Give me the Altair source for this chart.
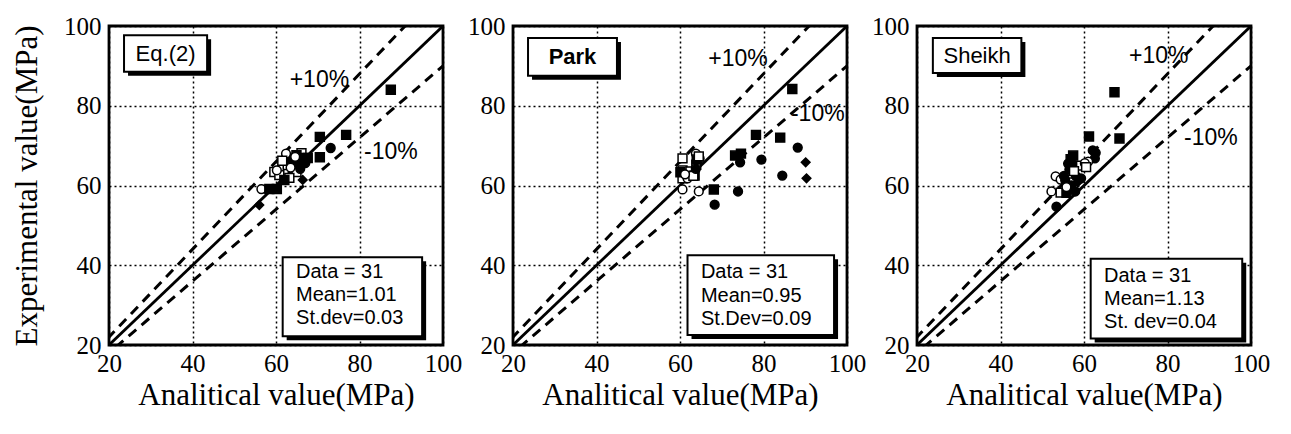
import altair as alt
import pandas as pd

# ---------------- data ----------------
panel_names = ["Eq.(2)", "Park", "Sheikh"]
stats_lines = [
    ["Data = 31", "Mean=1.01", "St.dev=0.03"],
    ["Data = 31", "Mean=0.95", "St.Dev=0.09"],
    ["Data = 31", "Mean=1.13", "St. dev=0.04"],
]

# kinds: FS filled square, OS open square, FC filled circle, OC open circle, FD filled diamond
eq2_kind = ["FS","FS","FS","FC","FS","OS","OS","OS","FS","FS","FS","FS","FC","OS","OS","OS",
            "OS","OC","FD","OC","FS","FS","FD","FC","OC","FS","OC","FC","OS","FC","OC"]
eq2_x = [87.5,70.5,76.8,73.1,70.5,62.5,62.8,66.1,64.9,66.4,63.7,67.6,65.5,59.6,60.8,64.9,
         63.2,60.2,66.4,56.5,58.4,60.2,56.0,64.3,63.5,62.0,62.4,67.0,61.5,65.8,64.6]
eq2_y = [84.0,72.2,72.7,69.4,67.1,66.9,65.1,68.1,67.6,66.9,66.6,66.9,65.8,63.4,62.6,63.4,
         61.9,63.8,61.4,59.1,59.1,59.1,55.1,65.5,64.5,61.4,68.0,65.6,66.2,64.2,67.2]

park_kind = ["FS","FS","FS","FC","FS","FS","FC","FC","FD","FD","FC","FS","FC","FC","OS","OS",
             "OS","OS","OS","OC","OC","OC","OC","OC","FS","FS","FS","OS","OC","FC","OS"]
park_x = [86.9,78.2,84.0,88.2,73.2,74.6,74.4,79.5,90.1,90.3,84.5,68.1,73.9,68.3,60.6,60.6,
          60.6,62.5,63.9,63.8,64.7,60.6,64.5,61.8,60.1,63.5,64.0,63.2,61.2,63.8,64.5]
park_y = [84.2,72.7,72.0,69.5,67.5,68.0,65.8,66.5,65.8,61.8,62.5,59.0,58.5,55.2,66.8,63.8,
          61.8,63.5,65.2,68.0,66.8,59.0,58.5,61.8,63.3,62.5,66.5,62.4,62.8,64.2,67.3]

sheikh_kind = ["FS","FS","FS","FC","FC","OC","FS","FC","FC","OS","OS","FC","FC","OC","OC","FC",
               "OC","OS","FS","FC","FC","FC","FS","OC","FC","OS","FC","OC","FD","FC","OS"]
sheikh_x = [67.3,61.2,68.5,62.1,62.6,61.0,57.4,56.2,58.1,59.3,56.7,58.1,59.3,53.2,54.4,55.5,
            52.2,54.4,55.8,57.9,53.4,57.0,56.8,60.2,56.5,57.6,55.2,55.8,58.5,62.8,60.5]
sheikh_y = [83.4,72.3,71.8,68.8,66.8,66.0,67.5,65.5,65.0,65.0,63.0,62.3,61.8,62.3,61.5,61.3,
            58.5,58.2,58.2,58.5,54.7,60.0,66.6,65.6,64.0,63.6,62.4,59.6,60.8,68.2,64.6]

kinds_x = [eq2_x, park_x, sheikh_x]
kinds_y = [eq2_y, park_y, sheikh_y]
kinds_k = [eq2_kind, park_kind, sheikh_kind]

# reference lines y = r * x
ref_ratio = [1.0, 1.1, 0.9]
ref_label = ["0%", "+10%", "-10%"]
ref_ends = [0, 120]

# label positions (data units)
plus_pos = [(70.4, 86.5), (73.9, 91.7), (77.9, 92.5)]
minus_pos = [(87.5, 68.4), (93.0, 78.0), (90.4, 71.8)]
name_box = [(23.6, 43.5, 97.7, 88.5), (23.6, 44.9, 97.0, 87.5), (23.8, 45.0, 97.0, 88.2)]
stats_box = [(61.6, 95.0, 42.0, 22.2), (61.8, 96.9, 42.5, 22.5), (61.6, 97.9, 41.6, 21.6)]
stats_y = [[38.3, 32.5, 26.7], [38.2, 32.4, 26.6], [37.4, 31.6, 25.8]]

SERIF = "Liberation Serif"
SANS = "Liberation Sans"
domain = [20, 100]
ticks = [20, 40, 60, 80, 100]
kind_dom = ["FS", "OS", "FC", "OC", "FD"]
DIAMOND = "M-1,0L0,-1L1,0L0,1Z"


def panel(i):
    xs = alt.Scale(domain=domain, nice=False, zero=False)
    ys = alt.Scale(domain=domain, nice=False, zero=False)
    xt = "Analitical value(MPa)"
    yt = "Experimental value(MPa)" if i == 0 else None

    def X(f):
        return alt.X(f, scale=xs, axis=alt.Axis(values=ticks, title=xt))

    def Y(f):
        return alt.Y(f, scale=ys, axis=alt.Axis(values=ticks, title=yt))

    pts = pd.DataFrame({"x": kinds_x[i], "y": kinds_y[i], "kind": kinds_k[i]})
    base_pts = alt.Chart(pts).mark_point(filled=True, stroke="black", strokeWidth=1.5, opacity=1).encode(
        x=X("x:Q"), y=Y("y:Q"),
        shape=alt.Shape("kind:N", scale=alt.Scale(domain=kind_dom,
                        range=["square", "square", "circle", "circle", DIAMOND]), legend=None),
        fill=alt.Fill("kind:N", scale=alt.Scale(domain=kind_dom,
                      range=["black", "white", "black", "white", "black"]), legend=None),
        size=alt.Size("kind:N", scale=alt.Scale(domain=kind_dom,
                      range=[80, 75, 70, 65, 150]), legend=None),
    )

    rows = []
    for r, lab in zip(ref_ratio, ref_label):
        for e in ref_ends:
            rows.append({"x": e, "r": r, "lab": lab})
    ref = pd.DataFrame(rows)
    ref_base = alt.Chart(ref).transform_calculate(y="datum.r * datum.x")
    solid = ref_base.transform_filter("datum.r == 1").mark_line(
        color="black", strokeWidth=2.8, clip=True).encode(
        x=X("x:Q"), y=Y("y:Q"), detail="lab:N")
    dashed = ref_base.transform_filter("datum.r != 1").mark_line(
        color="black", strokeWidth=3, strokeDash=[10, 7], clip=True).encode(
        x=X("x:Q"), y=Y("y:Q"), detail="lab:N")

    pct = pd.DataFrame({"x": [plus_pos[i][0], minus_pos[i][0]],
                        "y": [plus_pos[i][1], minus_pos[i][1]],
                        "t": ["+10%", "-10%"]})
    pct_txt = alt.Chart(pct).mark_text(font=SANS, fontSize=23, color="black").encode(
        x=X("x:Q"), y=Y("y:Q"), text="t:N")

    boxes = pd.DataFrame({
        "x1": [name_box[i][0], stats_box[i][0]], "x2": [name_box[i][1], stats_box[i][1]],
        "y1": [name_box[i][2], stats_box[i][2]], "y2": [name_box[i][3], stats_box[i][3]],
    })
    shadow = alt.Chart(boxes).mark_rect(fill="black", xOffset=4, x2Offset=4,
                                        yOffset=4, y2Offset=4).encode(
        x=X("x1:Q"), x2="x2:Q", y=Y("y1:Q"), y2="y2:Q")
    box = alt.Chart(boxes).mark_rect(fill="white", stroke="black", strokeWidth=2).encode(
        x=X("x1:Q"), x2="x2:Q", y=Y("y1:Q"), y2="y2:Q")

    name = pd.DataFrame({"x": [(name_box[i][0] + name_box[i][1]) / 2],
                         "y": [(name_box[i][2] + name_box[i][3]) / 2],
                         "t": [panel_names[i]]})
    name_txt = alt.Chart(name).mark_text(font=SANS, fontSize=22, fontWeight="bold" if i == 1 else "normal",
                                         color="black").encode(
        x=X("x:Q"), y=Y("y:Q"), text="t:N")

    st = pd.DataFrame({"x": [stats_box[i][0] + 3.2] * 3, "y": stats_y[i], "t": stats_lines[i]})
    st_txt = alt.Chart(st).mark_text(font=SANS, fontSize=20, align="left", color="black").encode(
        x=X("x:Q"), y=Y("y:Q"), text="t:N")

    return alt.layer(solid, dashed, base_pts, pct_txt, shadow, box, name_txt, st_txt).properties(
        width=334, height=319)


chart = alt.hconcat(panel(0), panel(1), panel(2), spacing=70, bounds="flush").properties(
    background="white",
    padding={"left": 10, "top": 12, "right": 5, "bottom": 5}
).configure_view(
    stroke="black", strokeWidth=2.8
).configure_axis(
    grid=True, gridDash=[2, 3], gridColor="black", gridWidth=1.5, gridOpacity=1,
    tickSize=0, domain=False, labelFont=SERIF, labelFontSize=25, labelColor="black",
    labelFlush=False, titleFont=SERIF, titleFontSize=31, titleFontWeight="normal",
    titleColor="black"
).configure_axisX(labelPadding=6, titlePadding=4).configure_axisY(
    labelPadding=8, titlePadding=20
)

chart.save("out.html", embed_options={"renderer": "svg", "actions": False})
